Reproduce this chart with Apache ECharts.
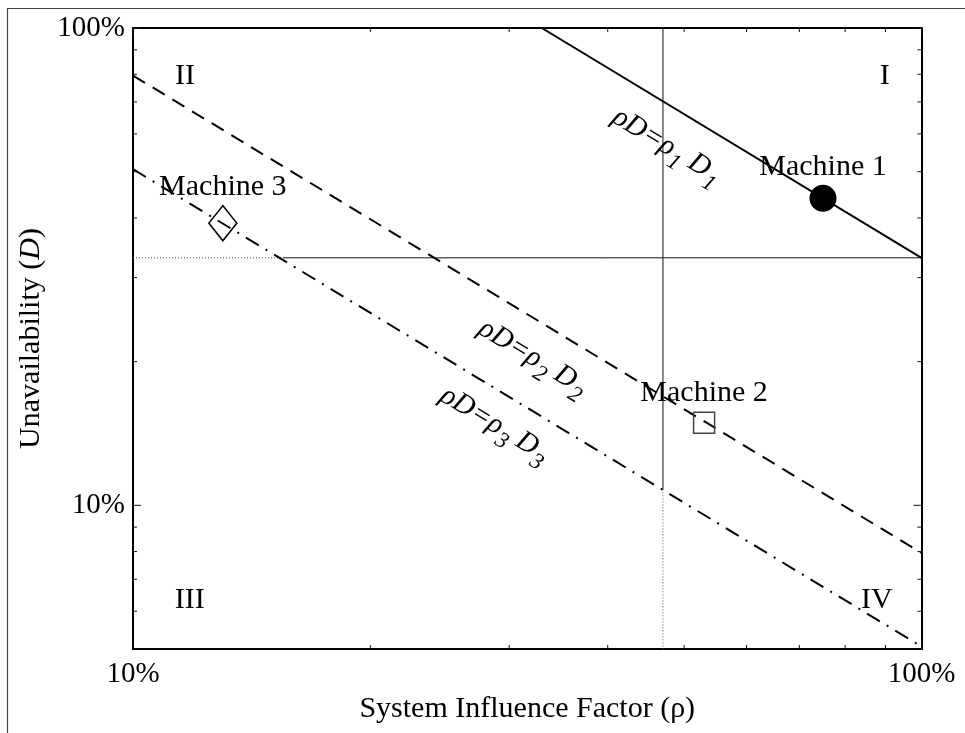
<!DOCTYPE html>
<html><head><meta charset="utf-8">
<script src="https://cdn.jsdelivr.net/npm/echarts@6/dist/echarts.min.js"></script>
<style>html,body{margin:0;padding:0;background:#fff}#c{width:965px;height:733px}</style>
</head><body><div id="c"></div>
<script>
const FONT = '"Liberation Serif", "Times New Roman", serif';

// axis ranges and ticks
const xRange = [0.1, 1];
const yRange = [0.05, 1];
const xMajorTicks = [0.1, 1];
const xMinorTicks = [0.2, 0.3, 0.4, 0.5, 0.6, 0.7, 0.8, 0.9];
const yMajorTicks = [0.1, 1];
const yMinorTicks = [0.06, 0.07, 0.08, 0.09, 0.2, 0.3, 0.4, 0.5, 0.6, 0.7, 0.8, 0.9];

// machines
const machineNames = ['Machine 1', 'Machine 2', 'Machine 3'];
const machineRho = [0.75, 0.53, 0.13];
const machineD = [0.44, 0.149, 0.39];

// iso-risk lines rhoD = const (endpoints)
const line1 = [[0.33, 1], [1, 0.33]];
const line2 = [[0.1, 0.795], [1, 0.0795]];
const line3 = [[0.1, 0.506], [1, 0.0506]];

// quadrant dividers
const hLineDotted = [[0.1, 0.33], [0.155, 0.33]];
const hLineSolid = [[0.155, 0.33], [1, 0.33]];
const vLineSolid = [[0.47, 1], [0.47, 0.108]];
const vLineDotted = [[0.47, 0.108], [0.47, 0.05]];

// line labels
const lineLabelIdx = ['1', '2', '3'];
const lineLabelRho = [0.4755, 0.3216, 0.2877];
const lineLabelD = [0.566, 0.204, 0.1477];

// quadrant labels
const quadNames = ['I', 'II', 'III', 'IV'];
const quadRho = [0.898, 0.1164, 0.118, 0.878];
const quadD = [0.793, 0.793, 0.0633, 0.0633];

// styles (not data)
const machineStyles = [
  { symbol: 'circle', symbolSize: 27, itemStyle: { color: '#000', opacity: 1 } },
  { symbol: 'rect', symbolSize: 21, itemStyle: { color: 'rgba(0,0,0,0)', borderColor: '#444', borderWidth: 1.5, opacity: 1 } },
  { symbol: 'diamond', symbolSize: [28, 35], itemStyle: { color: 'rgba(0,0,0,0)', borderColor: '#000', borderWidth: 1.5, opacity: 1 } }
];

function pctFmt(v) {
  const l = Math.log10(v);
  if (Math.abs(l - Math.round(l)) < 1e-6) return Math.round(v * 100) + '%';
  return '';
}

function tickSeries(values, len, dir) {
  return {
    type: 'custom', coordinateSystem: 'cartesian2d', xAxisIndex: 0, yAxisIndex: 0,
    silent: true, z: 6, clip: false,
    data: values.map(v => dir === 'x' ? [v, yRange[0]] : [xRange[0], v]),
    renderItem: function (params, api) {
      const st = { stroke: '#111', lineWidth: 1 };
      if (dir === 'x') {
        const v = api.value(0);
        const a = api.coord([v, yRange[0]]);
        const b = api.coord([v, yRange[1]]);
        return { type: 'group', children: [
          { type: 'line', shape: { x1: a[0], y1: a[1], x2: a[0], y2: a[1] - len }, style: st },
          { type: 'line', shape: { x1: b[0], y1: b[1], x2: b[0], y2: b[1] + len }, style: st }
        ] };
      } else {
        const v = api.value(1);
        const a = api.coord([xRange[0], v]);
        const b = api.coord([xRange[1], v]);
        return { type: 'group', children: [
          { type: 'line', shape: { x1: a[0], y1: a[1], x2: a[0] + len, y2: a[1] }, style: st },
          { type: 'line', shape: { x1: b[0], y1: b[1], x2: b[0] - len, y2: b[1] }, style: st }
        ] };
      }
    }
  };
}

function lineSeries(data, style, z) {
  return { type: 'line', data: data, symbol: 'none', showSymbol: false, silent: true, z: z || 3,
    lineStyle: Object.assign({ color: '#000', width: 2, cap: 'butt', opacity: 1 }, style), animation: false };
}

const axisLineStyle = { show: true, onZero: false, lineStyle: { color: '#000', width: 2 } };

const chart = echarts.init(document.getElementById('c'), null, { renderer: 'canvas' });
const option = {
  animation: false,
  backgroundColor: '#fff',
  grid: { left: 133, top: 28, right: 43.5, bottom: 84, containLabel: false, outerBoundsMode: 'none' },
  graphic: [{ type: 'rect', silent: true, z: -10,
    shape: { x: 7.5, y: 8.5, width: 1200, height: 1200 },
    style: { fill: 'none', stroke: '#444', lineWidth: 1.2 } }],
  xAxis: [
    { type: 'log', logBase: 10, min: xRange[0], max: xRange[1], position: 'bottom',
      axisLine: axisLineStyle, axisTick: { show: false }, splitLine: { show: false }, minorTick: { show: false },
      axisLabel: { formatter: pctFmt, margin: 11, fontFamily: FONT, fontSize: 29, color: '#000', hideOverlap: false },
      name: 'System Influence Factor (ρ)', nameLocation: 'middle', nameGap: 40,
      nameTextStyle: { fontFamily: FONT, fontSize: 30, color: '#000' } },
    { type: 'log', logBase: 10, min: xRange[0], max: xRange[1], position: 'top',
      axisLine: axisLineStyle, axisTick: { show: false }, splitLine: { show: false }, axisLabel: { show: false } }
  ],
  yAxis: [
    { type: 'log', logBase: 10, min: yRange[0], max: yRange[1], position: 'left',
      axisLine: axisLineStyle, axisTick: { show: false }, splitLine: { show: false }, minorTick: { show: false },
      axisLabel: { formatter: pctFmt, margin: 8, fontFamily: FONT, fontSize: 29, color: '#000', hideOverlap: false },
      name: 'Unavailability ({i|D})', nameLocation: 'middle', nameGap: 87,
      nameTextStyle: { fontFamily: FONT, fontSize: 30, color: '#000',
        rich: { i: { fontFamily: FONT, fontSize: 30, fontStyle: 'italic', color: '#000' } } } },
    { type: 'log', logBase: 10, min: yRange[0], max: yRange[1], position: 'right',
      axisLine: axisLineStyle, axisTick: { show: false }, splitLine: { show: false }, axisLabel: { show: false } }
  ],
  series: [
    lineSeries(hLineDotted, { color: '#555', width: 1, type: [1, 2] }, 2),
    lineSeries(hLineSolid, { color: '#111', width: 1 }, 2),
    lineSeries(vLineSolid, { color: '#111', width: 1 }, 2),
    lineSeries(vLineDotted, { color: '#555', width: 1, type: [1, 2] }, 2),
    lineSeries(line1, { type: 'solid', width: 2 }),
    lineSeries(line2, { type: [14, 9], width: 2 }),
    lineSeries(line3, { type: [15, 8, 2, 8], width: 2 }),
    tickSeries(xMajorTicks, 8, 'x'),
    tickSeries(xMinorTicks, 4, 'x'),
    tickSeries(yMajorTicks, 8, 'y'),
    tickSeries(yMinorTicks, 4, 'y'),
    {
      type: 'scatter', silent: true, z: 5, itemStyle: { opacity: 1 },
      data: machineNames.map((n, i) => Object.assign({ name: n, value: [machineRho[i], machineD[i]] }, machineStyles[i])),
      label: { show: true, position: 'top', distance: 3, formatter: '{b}', fontFamily: FONT, fontSize: 30, color: '#000', opacity: 1 }
    },
    {
      type: 'scatter', silent: true, z: 7, symbolSize: 1, itemStyle: { color: 'rgba(0,0,0,0)', opacity: 1 },
      data: lineLabelIdx.map((k, i) => ({ name: k, value: [lineLabelRho[i], lineLabelD[i]] })),
      label: {
        show: true, position: 'inside', align: 'center', verticalAlign: 'middle', rotate: -31, opacity: 1,
        formatter: p => '{m|ρD=ρ}{s|' + p.name + '}{m| D}{s|' + p.name + '}',
        rich: {
          m: { fontFamily: FONT, fontSize: 29, fontStyle: 'italic', color: '#000', lineHeight: 32 },
          s: { fontFamily: FONT, fontSize: 23, fontStyle: 'italic', color: '#000', lineHeight: 32, padding: [22, 0, 0, 1] }
        }
      }
    },
    {
      type: 'scatter', silent: true, z: 7, symbolSize: 1, itemStyle: { color: 'rgba(0,0,0,0)', opacity: 1 },
      data: quadNames.map((q, i) => ({ name: q, value: [quadRho[i], quadD[i]] })),
      label: { show: true, position: 'inside', align: 'center', verticalAlign: 'middle', opacity: 1,
        formatter: '{b}', fontFamily: FONT, fontSize: 30, color: '#000' }
    }
  ]
};
chart.setOption(option);
</script></body></html>
